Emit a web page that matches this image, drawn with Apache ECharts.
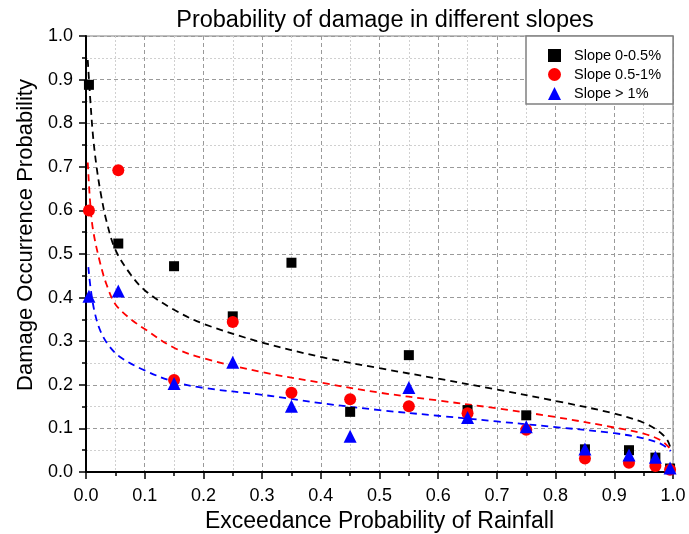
<!DOCTYPE html>
<html>
<head>
<meta charset="utf-8">
<script src="https://cdn.jsdelivr.net/npm/echarts@6/dist/echarts.min.js"></script>
<style>
  html, body { margin: 0; padding: 0; background: #fff; }
  #chart { width: 689px; height: 534px; }
</style>
</head>
<body>
<div id="chart"></div>
<script>
const FONT = 'Liberation Sans, Arial, sans-serif';
const SERIES_NAMES = ['Slope 0-0.5%', 'Slope 0.5-1%', 'Slope > 1%'];
const SERIES_COLORS = ['#000000', '#ff0000', '#0000ff'];
const TICK_LABELS = ['0.0', '0.1', '0.2', '0.3', '0.4', '0.5', '0.6', '0.7', '0.8', '0.9', '1.0'];

// observed points [exceedance, damage probability]
const slopeLow = [
  [0.005, 0.888], [0.055, 0.524], [0.15, 0.472], [0.25, 0.357], [0.35, 0.48],
  [0.45, 0.138], [0.55, 0.268], [0.65, 0.142], [0.75, 0.13], [0.85, 0.052],
  [0.925, 0.05], [0.97, 0.033], [0.995, 0.008]
];
const slopeMid = [
  [0.005, 0.6], [0.055, 0.692], [0.15, 0.211], [0.25, 0.344], [0.35, 0.182],
  [0.45, 0.167], [0.55, 0.151], [0.65, 0.135], [0.75, 0.097], [0.85, 0.031],
  [0.925, 0.021], [0.97, 0.014], [0.995, 0.005]
];
const slopeHigh = [
  [0.005, 0.403], [0.055, 0.415], [0.15, 0.203], [0.25, 0.252], [0.35, 0.151],
  [0.45, 0.082], [0.55, 0.194], [0.65, 0.125], [0.75, 0.104], [0.85, 0.053],
  [0.925, 0.039], [0.97, 0.034], [0.995, 0.009]
];

// fitted curves (dashed)
const fitLow = [
  [0.003, 0.945], [0.007, 0.86], [0.012, 0.77], [0.018, 0.7], [0.025, 0.64],
  [0.035, 0.575], [0.05, 0.51], [0.075, 0.455], [0.1, 0.417], [0.15, 0.372],
  [0.2, 0.34], [0.3, 0.297], [0.4, 0.264], [0.5, 0.238], [0.6, 0.214],
  [0.7, 0.189], [0.8, 0.163], [0.9, 0.134], [0.95, 0.113], [0.975, 0.094],
  [0.99, 0.074], [0.997, 0.05]
];
const fitMid = [
  [0.003, 0.71], [0.007, 0.62], [0.012, 0.555], [0.024, 0.48], [0.035, 0.43],
  [0.05, 0.385], [0.075, 0.352], [0.1, 0.328], [0.15, 0.285], [0.2, 0.261],
  [0.3, 0.229], [0.4, 0.205], [0.5, 0.182], [0.6, 0.164], [0.7, 0.146],
  [0.8, 0.126], [0.9, 0.102], [0.95, 0.088], [0.98, 0.072], [0.996, 0.052]
];
const fitHigh = [
  [0.004, 0.47], [0.008, 0.42], [0.015, 0.365], [0.025, 0.322], [0.04, 0.288],
  [0.06, 0.262], [0.1, 0.233], [0.15, 0.207], [0.2, 0.193], [0.3, 0.177],
  [0.4, 0.158], [0.5, 0.142], [0.6, 0.129], [0.7, 0.116], [0.8, 0.103],
  [0.9, 0.089], [0.95, 0.077], [0.98, 0.064], [0.996, 0.048]
];

const chart = echarts.init(document.getElementById('chart'));

const valueAxis = (name, nameSize) => ({
  type: 'value',
  min: 0,
  max: 1,
  interval: 0.1,
  name: name,
  nameLocation: 'middle',
  nameTextStyle: { fontFamily: FONT, fontSize: nameSize, color: '#000' },
  axisLine: { show: true, onZero: false, lineStyle: { color: '#000', width: 2 } },
  axisTick: { show: true, inside: false, length: 7, lineStyle: { color: '#000', width: 1.5 } },
  minorTick: { show: true, splitNumber: 2, length: 4, lineStyle: { color: '#000', width: 1.5 } },
  axisLabel: {
    fontFamily: FONT, fontSize: 18, color: '#000', margin: 13,
    formatter: (v) => TICK_LABELS[Math.round(v * 10)]
  },
  splitLine: { show: true, lineStyle: { color: '#9a9a9a', width: 1, type: [4, 3] } },
  minorSplitLine: { show: true, lineStyle: { color: '#d0d0d0', width: 1, type: [2, 2] } }
});

const xAxis = valueAxis('Exceedance Probability of Rainfall', 23);
xAxis.nameGap = 38;
xAxis.axisLabel.margin = 15;
const yAxis = valueAxis('Damage Occurrence Probability', 22);
yAxis.nameGap = 49;
yAxis.nameTextStyle.padding = [0, 0, 0, 38];

const fitSeries = [fitLow, fitMid, fitHigh].map((d, i) => ({
  name: 'fit' + i,
  type: 'line',
  data: d,
  smooth: 0.35,
  showSymbol: false,
  symbol: 'none',
  silent: true,
  z: 2,
  lineStyle: { color: SERIES_COLORS[i], width: 1.8, type: [7, 5] }
}));

const symbols = ['rect', 'circle', 'triangle'];
const sizes = [10, 12, 13];
const pointSeries = [slopeLow, slopeMid, slopeHigh].map((d, i) => ({
  name: SERIES_NAMES[i],
  type: 'scatter',
  data: d,
  symbol: symbols[i],
  symbolSize: sizes[i],
  z: 3 + i,
  itemStyle: { color: SERIES_COLORS[i], opacity: 1 }
}));

chart.setOption({
  animation: false,
  backgroundColor: '#fff',
  title: {
    text: 'Probability of damage in different slopes',
    left: 380,
    textAlign: 'center',
    top: 4,
    textStyle: { fontFamily: FONT, fontSize: 23.5, fontWeight: 'normal', color: '#000' }
  },
  grid: {
    left: 86, right: 16, top: 36, bottom: 62,
    outerBoundsMode: 'none',
    containLabel: false,
    show: true, borderColor: '#808080', borderWidth: 1, backgroundColor: 'transparent'
  },
  legend: {
    data: SERIES_NAMES.map((n, i) => ({ name: n, icon: symbols[i] })),
    orient: 'vertical',
    left: 526,
    top: 36,
    padding: [12, 12, 3, 22],
    itemGap: 4,
    itemWidth: 13,
    itemHeight: 13,
    backgroundColor: '#fff',
    borderColor: '#808080',
    borderWidth: 1.5,
    textStyle: { fontFamily: FONT, fontSize: 14.5, color: '#000', padding: [0, 0, 0, 8] }
  },
  xAxis: xAxis,
  yAxis: yAxis,
  series: [...fitSeries, ...pointSeries]
});
</script>
</body>
</html>
